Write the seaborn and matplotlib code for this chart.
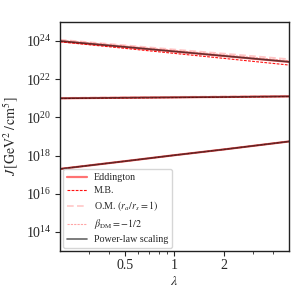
import numpy as np
import pandas as pd
import matplotlib
matplotlib.use("Agg")
import matplotlib.pyplot as plt
from matplotlib.ticker import FixedLocator, NullLocator, NullFormatter, FixedFormatter
import seaborn as sns

lam = [0.2, 0.5, 1.0, 2.0, 5.0]

# Upper group
edd_top = [9.6e23, 4.8e23, 2.8e23, 1.63e23, 8.0e22]
mb_top = [9.1e23, 4.1e23, 2.24e23, 1.23e23, 5.5e22]
om_top = [1.17e24, 6.0e23, 3.6e23, 2.2e23, 1.12e23]
beta_top = [1.1e24, 5.5e23, 3.2e23, 1.9e23, 9.3e22]
pl_top = [1.0e24, 4.9e23, 2.85e23, 1.66e23, 8.1e22]

# Middle group
edd_mid = [1.0e21, 1.07e21, 1.12e21, 1.17e21, 1.26e21]
mb_mid = [0.97e21, 1.04e21, 1.09e21, 1.15e21, 1.24e21]
om_mid = [1.06e21, 1.14e21, 1.2e21, 1.26e21, 1.36e21]
beta_mid = [1.03e21, 1.1e21, 1.16e21, 1.22e21, 1.31e21]
pl_mid = [1.0e21, 1.07e21, 1.12e21, 1.17e21, 1.26e21]

# Lower group
edd_low = [2.0e17, 5.1e17, 1.05e18, 2.1e18, 5.5e18]
mb_low = [2.0e17, 5.1e17, 1.05e18, 2.1e18, 5.5e18]
om_low = [2.0e17, 5.1e17, 1.05e18, 2.1e18, 5.5e18]
beta_low = [2.0e17, 5.1e17, 1.05e18, 2.1e18, 5.5e18]
pl_low = [2.0e17, 5.1e17, 1.05e18, 2.1e18, 5.5e18]

labels = ["Eddington", "M.B.", r"O.M. $(r_a/r_s=1)$", r"$\beta_{\rm DM}=-1/2$", "Power-law scaling"]
series = {
    labels[0]: [edd_top, edd_mid, edd_low],
    labels[1]: [mb_top, mb_mid, mb_low],
    labels[2]: [om_top, om_mid, om_low],
    labels[3]: [beta_top, beta_mid, beta_low],
    labels[4]: [pl_top, pl_mid, pl_low],
}
styles = {
    labels[0]: dict(color="red", lw=1.6, ls="-", alpha=0.55),
    labels[1]: dict(color="#ff1010", lw=0.8, ls=(0, (2.5, 1.2)), alpha=1.0),
    labels[2]: dict(color="#ff6060", lw=1.2, ls=(0, (4, 2)), alpha=0.35),
    labels[3]: dict(color="#ff8080", lw=0.8, ls=(0, (2, 1)), alpha=0.7),
    labels[4]: dict(color="black", lw=1.2, ls="-", alpha=0.6),
}

sns.set_style("ticks")
plt.rcParams["font.family"] = ["Liberation Serif", "DejaVu Serif"]
plt.rcParams["mathtext.fontset"] = "stix"

fig = plt.figure(figsize=(3.04, 3.04), dpi=100)
ax = fig.add_axes([0.197, 0.174, 0.754, 0.754])

for lab, groups in series.items():
    st = styles[lab]
    for i, g in enumerate(groups):
        df = pd.DataFrame({"lam": lam, "J": g})
        sns.lineplot(data=df, x="lam", y="J", ax=ax, color=st["color"],
                     linewidth=st["lw"], alpha=st["alpha"],
                     label=lab if i == 0 else None)
        ax.lines[-1].set_linestyle(st["ls"])

ax.set_xscale("log")
ax.set_yscale("log")
ax.set_xlim(0.2, 5)
ax.set_ylim(1e13, 1e25)

ax.xaxis.set_major_locator(FixedLocator([0.5, 1, 2]))
ax.xaxis.set_major_formatter(FixedFormatter(["0.5", "1", "2"]))
ax.xaxis.set_minor_locator(FixedLocator([0.3, 0.4, 0.6, 0.7, 0.8, 0.9, 3, 4]))
ax.xaxis.set_minor_formatter(NullFormatter())
ax.yaxis.set_major_locator(FixedLocator([1e14, 1e16, 1e18, 1e20, 1e22, 1e24]))
ax.yaxis.set_minor_locator(NullLocator())

ax.tick_params(axis="both", which="major", labelsize=10, length=3.5, width=0.8,
               direction="out", pad=2.5)
ax.tick_params(axis="x", which="minor", length=2, width=0.6)
for sp in ax.spines.values():
    sp.set_linewidth(1.0)
    sp.set_color("#222222")

ax.set_xlabel(r"$\lambda$", fontsize=10, labelpad=2)
ax.set_ylabel(r"$J\,[{\rm GeV}^2\,/\,{\rm cm}^5]$", fontsize=10)

leg = ax.legend(loc="lower left", fontsize=7.2, frameon=True, handlelength=2.0,
                borderpad=0.4, labelspacing=0.4, handletextpad=0.7,
                borderaxespad=0.3)
for h, lab in zip(leg.get_lines(), labels):
    h.set_linestyle(styles[lab]["ls"])

fig.savefig("out.png", dpi=100)
